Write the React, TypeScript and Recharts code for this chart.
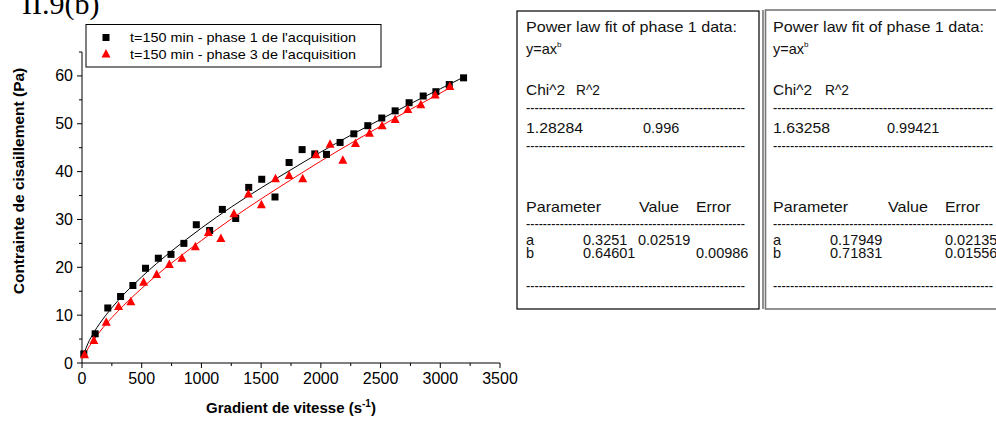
import { ComposedChart, Line, Scatter, XAxis, YAxis } from "recharts";

// phase 1 (black squares)
const phase1X = [15, 110, 216, 323, 426, 532, 639, 745, 853, 957, 1069, 1175, 1287, 1396, 1505, 1616, 1734, 1843, 1949, 2047, 2161, 2276, 2393, 2510, 2622, 2739, 2857, 2963, 3075, 3195];
const phase1Y = [1.9, 6.1, 11.5, 13.9, 16.2, 19.8, 21.9, 22.7, 25.0, 28.9, 27.7, 32.1, 30.2, 36.7, 38.4, 34.7, 41.9, 44.6, 43.7, 43.6, 46.1, 47.9, 49.6, 51.2, 52.7, 54.4, 55.8, 56.7, 58.2, 59.6];

// phase 3 (red triangles)
const phase3X = [21, 99, 203, 306, 409, 516, 625, 731, 837, 949, 1058, 1163, 1272, 1393, 1502, 1620, 1734, 1848, 1960, 2077, 2184, 2290, 2407, 2513, 2622, 2728, 2837, 2957, 3080];
const phase3Y = [1.7, 4.7, 8.5, 11.8, 12.8, 16.9, 18.5, 20.6, 21.9, 24.3, 27.3, 26.0, 31.2, 35.3, 33.1, 38.5, 39.2, 38.5, 43.5, 45.7, 42.4, 45.9, 48.0, 49.6, 50.9, 53.0, 54.0, 56.0, 57.8];

// fitted curves
const fit1X = [15, 50, 100, 200, 300, 500, 750, 1000, 1250, 1500, 1750, 2000, 2250, 2500, 2750, 3000, 3200];
const fit1Y = [1.9, 4.1, 6.4, 10.0, 13.0, 18.0, 23.4, 28.2, 32.6, 36.6, 40.4, 44.1, 47.6, 50.9, 54.2, 57.3, 59.8];
const fit3X = [21, 50, 100, 200, 300, 500, 750, 1000, 1250, 1500, 1750, 2000, 2250, 2500, 2750, 3080];
const fit3Y = [1.6, 3.0, 4.9, 8.1, 10.8, 15.6, 20.9, 25.6, 30.1, 34.3, 38.3, 42.2, 45.9, 49.5, 53.0, 57.5];

const xTicks = [0, 250, 500, 750, 1000, 1250, 1500, 1750, 2000, 2250, 2500, 2750, 3000, 3250, 3500];
const yTicks = [0, 5, 10, 15, 20, 25, 30, 35, 40, 45, 50, 55, 60, 65];

const legendLabels = ["t=150 min - phase 1 de l'acquisition", "t=150 min - phase 3 de l'acquisition"];

const zip = (xs: number[], ys: number[]) => xs.map((x, i) => ({ x, y: ys[i] }));

const SANS = "'Liberation Sans', Arial, sans-serif";

function Square(props: any) {
  const { cx, cy } = props;
  return <rect x={cx - 3.5} y={cy - 3.5} width={7} height={7} fill="#000" />;
}

function Triangle(props: any) {
  const { cx, cy } = props;
  return <polygon points={`${cx},${cy - 5} ${cx - 4.5},${cy + 3.5} ${cx + 4.5},${cy + 3.5}`} fill="#ff0000" />;
}

function XTick(props: any) {
  const { x, y, payload } = props;
  const major = payload.value % 500 === 0;
  return (
    <g>
      <line x1={x} y1={y} x2={x} y2={y + (major ? 5 : 3)} stroke="#000" />
      {major && (
        <text x={x} y={y + 21} textAnchor="middle" fontSize={16} fontFamily={SANS} fill="#000">
          {payload.value}
        </text>
      )}
    </g>
  );
}

function YTick(props: any) {
  const { x, y, payload } = props;
  const major = payload.value % 10 === 0;
  return (
    <g>
      <line x1={x - (major ? 5 : 3)} y1={y} x2={x} y2={y} stroke="#000" />
      {major && (
        <text x={x - 9} y={y + 5.5} textAnchor="end" fontSize={16} fontFamily={SANS} fill="#000">
          {payload.value}
        </text>
      )}
    </g>
  );
}

type Txt = { t: string; x: number; y: number; w?: number };

const BOX_FS = 14.5;

function BoxText({ items }: { items: Txt[] }) {
  return (
    <>
      {items.map((it, i) => (
        <text
          key={i}
          x={it.x}
          y={it.y}
          fontSize={BOX_FS}
          fontFamily={SANS}
          fill="#111"
          textLength={it.w}
          lengthAdjust={it.w ? "spacingAndGlyphs" : undefined}
        >
          {it.t}
        </text>
      ))}
    </>
  );
}

const DASHES = "----------------------------------------------------";

function FitBox({ left, right, top, bottom, col, vals, gray }: any) {
  const [chi, r2, a, aErr, b, bErr] = vals;
  const c = col;
  const items: Txt[] = [
    { t: "Power law fit of phase 1 data:", x: c.x0, y: 32, w: 211 },
    { t: "Chi^2", x: c.x0, y: 95, w: 39 },
    { t: "R^2", x: c.r2, y: 95, w: 24 },
    { t: DASHES, x: c.x0, y: 113, w: c.dashW },
    { t: chi, x: c.x0, y: 133, w: 57 },
    { t: r2, x: c.r2v, y: 133 },
    { t: DASHES, x: c.x0, y: 151, w: c.dashW },
    { t: "Parameter", x: c.x0, y: 212, w: 75 },
    { t: "Value", x: c.val, y: 212, w: 40 },
    { t: "Error", x: c.err, y: 212, w: 35 },
    { t: DASHES, x: c.x0, y: 229, w: c.dashW },
    { t: "a", x: c.x0, y: 245 },
    { t: a, x: c.pv, y: 245 },
    { t: aErr, x: c.ae, y: 245 },
    { t: "b", x: c.x0, y: 258 },
    { t: b, x: c.pv, y: 258 },
    { t: bErr, x: c.err, y: 258 },
    { t: DASHES, x: c.x0, y: 291, w: c.dashW },
  ];
  return (
    <g>
      {gray ? (
        <>
          <line x1={left - 2.5} y1={top} x2={left - 2.5} y2={bottom} stroke="#222" strokeWidth={1} />
          <rect x={left} y={top} width={right - left} height={bottom - top} fill="none" stroke="#777" strokeWidth={1.6} />
        </>
      ) : (
        <rect x={left} y={top} width={right - left} height={bottom - top} fill="none" stroke="#000" strokeWidth={1.2} />
      )}
      <BoxText items={items} />
      <text x={c.x0} y={54} fontSize={BOX_FS} fontFamily={SANS} fill="#111">
        y=ax
        <tspan fontSize={8} dy={-7}>
          b
        </tspan>
      </text>
    </g>
  );
}

export default function App() {
  const p1 = zip(phase1X, phase1Y);
  const p3 = zip(phase3X, phase3Y);
  const f1 = zip(fit1X, fit1Y);
  const f3 = zip(fit3X, fit3Y);

  return (
    <div style={{ position: "absolute", left: 0, top: 0, width: 996, height: 423, background: "#fff", overflow: "hidden" }}>
      <ComposedChart width={520} height={423} margin={{ top: 52, right: 20, bottom: 30, left: 42 }}>
        <XAxis
          dataKey="x"
          type="number"
          domain={[0, 3500]}
          ticks={xTicks}
          interval={0}
          tickSize={0}
          tickMargin={0}
          height={30}
          axisLine={{ stroke: "#000" }}
          tickLine={false}
          tick={<XTick />}
        />
        <YAxis
          dataKey="y"
          type="number"
          domain={[0, 65]}
          ticks={yTicks}
          interval={0}
          tickSize={0}
          tickMargin={0}
          width={40}
          axisLine={{ stroke: "#000" }}
          tickLine={false}
          tick={<YTick />}
        />
        <Line data={f1} dataKey="y" type="monotone" stroke="#000" strokeWidth={1} dot={false} isAnimationActive={false} />
        <Line data={f3} dataKey="y" type="monotone" stroke="#ff0000" strokeWidth={1} dot={false} isAnimationActive={false} />
        <Scatter data={p1} dataKey="y" shape={<Square />} isAnimationActive={false} />
        <Scatter data={p3} dataKey="y" shape={<Triangle />} isAnimationActive={false} />
      </ComposedChart>

      <svg width={996} height={423} style={{ position: "absolute", left: 0, top: 0, pointerEvents: "none" }}>
        <text x={22} y={14} fontSize={30} fontFamily="'Liberation Serif', 'Times New Roman', serif" fill="#000">
          II.9(b)
        </text>

        {/* legend */}
        <rect x={86} y={24.5} width={295} height={42.5} fill="#fff" stroke="#000" strokeWidth={1} />
        <rect x={102.5} y={34} width={7} height={7} fill="#000" />
        <polygon points="106,49 101.5,57.5 110.5,57.5" fill="#ff0000" />
        <text x={130} y={42} fontSize={13.5} fontFamily={SANS} fill="#000" textLength={226} lengthAdjust="spacingAndGlyphs">
          {legendLabels[0]}
        </text>
        <text x={130} y={59} fontSize={13.5} fontFamily={SANS} fill="#000" textLength={226} lengthAdjust="spacingAndGlyphs">
          {legendLabels[1]}
        </text>

        {/* axis titles */}
        <text x={291} y={413} textAnchor="middle" fontSize={15} fontWeight="bold" fontFamily={SANS} fill="#000">
          Gradient de vitesse (s
          <tspan fontSize={10} dy={-6}>-1</tspan>
          <tspan dy={6}>)</tspan>
        </text>
        <text
          x={0}
          y={0}
          transform="translate(24,181) rotate(-90)"
          textAnchor="middle"
          fontSize={15.5}
          fontWeight="bold"
          fontFamily={SANS}
          fill="#000"
        >
          Contrainte de cisaillement (Pa)
        </text>

        <FitBox
          left={517}
          right={759}
          top={11}
          bottom={309}
          col={{ x0: 526, r2: 576, r2v: 643, val: 639, err: 696, pv: 583, ae: 638, dashW: 219 }}
          vals={["1.28284", "0.996", "0.3251", "0.02519", "0.64601", "0.00986"]}
        />
        <FitBox
          gray
          left={765.5}
          right={1010}
          top={10}
          bottom={309}
          col={{ x0: 773, r2: 825, r2v: 887, val: 888, err: 945, pv: 830, ae: 945, dashW: 220 }}
          vals={["1.63258", "0.99421", "0.17949", "0.02135", "0.71831", "0.01556"]}
        />
      </svg>
    </div>
  );
}
